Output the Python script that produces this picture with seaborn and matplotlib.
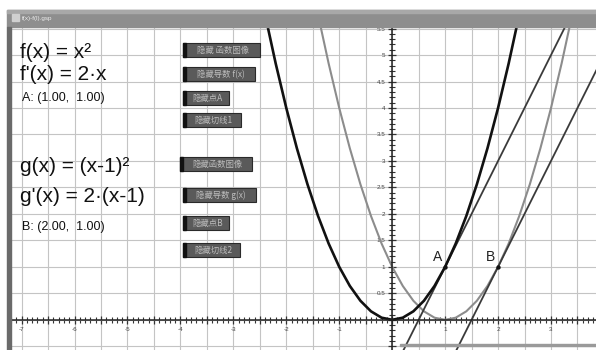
import matplotlib
matplotlib.use("Agg")
import matplotlib.pyplot as plt
import matplotlib.patches as mpatches
import matplotlib.ticker as mticker
import seaborn as sns

# ---- data ----
f_x = [-2.4, -2.2, -2.0, -1.8, -1.6, -1.4, -1.2, -1.0, -0.8, -0.6, -0.4, -0.2, 0.0,
       0.2, 0.4, 0.6, 0.8, 1.0, 1.2, 1.4, 1.6, 1.8, 2.0, 2.2, 2.4]
f_y = [5.76, 4.84, 4.0, 3.24, 2.56, 1.96, 1.44, 1.0, 0.64, 0.36, 0.16, 0.04, 0.0,
       0.04, 0.16, 0.36, 0.64, 1.0, 1.44, 1.96, 2.56, 3.24, 4.0, 4.84, 5.76]
g_x = [-1.4, -1.2, -1.0, -0.8, -0.6, -0.4, -0.2, 0.0, 0.2, 0.4, 0.6, 0.8, 1.0,
       1.2, 1.4, 1.6, 1.8, 2.0, 2.2, 2.4, 2.6, 2.8, 3.0, 3.2, 3.4]
g_y = [5.76, 4.84, 4.0, 3.24, 2.56, 1.96, 1.44, 1.0, 0.64, 0.36, 0.16, 0.04, 0.0,
       0.04, 0.16, 0.36, 0.64, 1.0, 1.44, 1.96, 2.56, 3.24, 4.0, 4.84, 5.76]
# tangent lines (end points)
t1_x = [0.2, 3.4]
t1_y = [-0.6, 5.8]
t2_x = [1.2, 4.0]
t2_y = [-0.6, 5.0]
# points A and B
pt_names = ["A", "B"]
pt_x = [1.0, 2.0]
pt_y = [1.0, 1.0]

x_tick_labels = [-7, -6, -5, -4, -3, -2, -1, 1, 2, 3]

info_lines = ["f(x) = x²", "f'(x) = 2·x", "A: (1.00,  1.00)",
              "g(x) = (x-1)²", "g'(x) = 2·(x-1)", "B: (2.00,  1.00)"]
buttons = ["隐藏 函数图像", "隐藏导数 f(x)", "隐藏点A", "隐藏切线1",
           "隐藏函数图像", "隐藏导数 g(x)", "隐藏点B", "隐藏切线2"]

W, H = 596, 350
sns.set_style("white")
plt.rcParams["font.family"] = ["Liberation Sans", "Noto Sans CJK SC", "DejaVu Sans"]

fig = plt.figure(figsize=(W / 100, H / 100), dpi=100)


def px(x, y):
    # pixel (from top-left) -> figure fraction
    return x / W, 1 - y / H


def rect_px(x0, y0, x1, y1, **kw):
    fig.patches.append(mpatches.Rectangle((x0 / W, 1 - y1 / H), (x1 - x0) / W, (y1 - y0) / H,
                                          transform=fig.transFigure, **kw))


# plotting area
ax = fig.add_axes([11 / W, 0, (W - 11) / W, (H - 27) / H])
ax.set_xlim(-7.2, 3.85)
ax.set_ylim(-0.57, 5.53)

# grid every 0.5
ax.xaxis.set_major_locator(mticker.MultipleLocator(0.5))
ax.yaxis.set_major_locator(mticker.MultipleLocator(0.5))
ax.xaxis.set_minor_locator(mticker.MultipleLocator(0.1))
ax.yaxis.set_minor_locator(mticker.MultipleLocator(0.1))
ax.grid(True, which="major", color="#c4c4c4", lw=0.8)
ax.set_axisbelow(True)


def xfmt(v, pos):
    r = round(v)
    if abs(v - r) < 1e-6 and r in x_tick_labels:
        return str(r)
    return ""


def yfmt(v, pos):
    if v < 0.25:
        return ""
    return f"{v:g}"


ax.xaxis.set_major_formatter(mticker.FuncFormatter(xfmt))
ax.yaxis.set_major_formatter(mticker.FuncFormatter(yfmt))

for s in ["top", "right"]:
    ax.spines[s].set_visible(False)
ax.spines["left"].set_position(("data", 0))
ax.spines["bottom"].set_position(("data", 0))
for s in ["left", "bottom"]:
    ax.spines[s].set_color("#222222")
    ax.spines[s].set_linewidth(1.1)
ax.tick_params(which="both", bottom=True, left=True, top=False, right=False)
ax.tick_params(which="major", direction="inout", length=6, width=0.9, color="#333333",
               labelsize=4.5, labelcolor="#444444", pad=2)
ax.tick_params(which="minor", direction="inout", length=4, width=0.8, color="#333333")

# curves
sns.lineplot(x=g_x, y=g_y, ax=ax, color="#8c8c8c", lw=1.5, sort=False, estimator=None)
sns.lineplot(x=t2_x, y=t2_y, ax=ax, color="#3a3a3a", lw=1.3, sort=False, estimator=None)
sns.lineplot(x=t1_x, y=t1_y, ax=ax, color="#3a3a3a", lw=1.3, sort=False, estimator=None)
sns.lineplot(x=f_x, y=f_y, ax=ax, color="#111111", lw=1.9, sort=False, estimator=None)
sns.scatterplot(x=pt_x, y=pt_y, ax=ax, color="#111111", s=10, zorder=5, linewidth=0)
for name, xv, yv in zip(pt_names, pt_x, pt_y):
    ax.annotate(name, (xv, yv), xytext=(-2, 2), textcoords="offset points",
                ha="right", va="bottom", fontsize=10, color="#222222")
ax.set_xlabel("")
ax.set_ylabel("")

# window chrome
rect_px(0, 0, W, 10, color="white", zorder=0)
rect_px(7, 10, W, 27, color="#8e8e8e", zorder=3)
rect_px(7, 10, W, 13, color="#a8a8a8", zorder=3)
rect_px(7, 27, 11, H, color="#6a6a6a", zorder=3)
rect_px(12, 14, 19, 21, color="#d0d0d0", zorder=4)
fig.text(*px(22, 18.5), "f(x)-f(l).gsp", fontsize=4.5, color="#eeeeee", va="center", zorder=5)
rect_px(400, 344, W, 345.5, color="#9a9a9a", zorder=3)

# left-hand info text
info_pos = [(20, 52, 15), (20, 74, 15), (22, 98, 9),
            (20, 167, 15), (20, 196, 15), (22, 227, 9)]
for txt, (x, y, fs) in zip(info_lines, info_pos):
    fig.text(*px(x, y), txt, fontsize=fs, color="#111111", va="center", ha="left")

# buttons
btn_box = [(183, 43, 260, 57), (183, 67, 255, 81), (183, 91, 229, 105), (183, 113, 241, 127),
           (180, 157, 252, 171), (183, 188, 256, 202), (183, 216, 229, 230), (183, 243, 240, 257)]
for txt, (x0, y0, x1, y1) in zip(buttons, btn_box):
    rect_px(x0, y0, x1, y1, facecolor="#5a5a5a", edgecolor="#2a2a2a", lw=0.8, zorder=6)
    rect_px(x0, y0, x0 + 3, y1, color="#111111", zorder=7)
    fig.text(*px((x0 + 3 + x1) / 2, (y0 + y1) / 2 + 0.5), txt, fontsize=6, color="#bdbdbd",
             ha="center", va="center", zorder=8,
             family=["Noto Sans CJK SC", "DejaVu Sans"])

fig.savefig("out.png", dpi=100)
